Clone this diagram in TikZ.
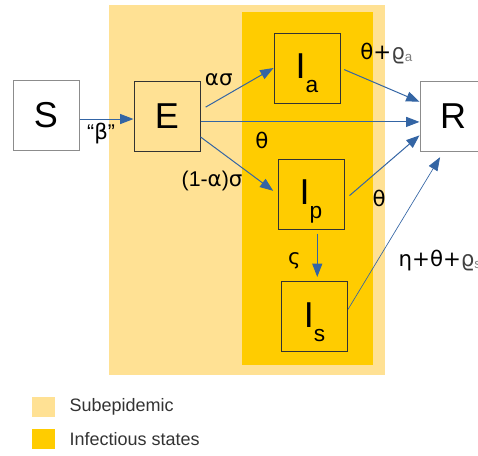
\documentclass[tikz,border=0pt]{standalone}
\usepackage{fontspec}
\setmainfont{Liberation Sans}
\newfontfamily\greekfont{DejaVu Sans}
\usetikzlibrary{arrows.meta, positioning}

\definecolor{subepi}{HTML}{FFE194}
\definecolor{infect}{HTML}{FFCC00}
\definecolor{flowblue}{HTML}{3465A4}
\definecolor{legendgray}{HTML}{333333}

% indices
\newcommand{\stsub}[1]{{\fontsize{17}{17}\selectfont\raisebox{-10.5pt}{#1}}}
\newcommand{\ratesub}[1]{{\color{gray}\fontsize{10}{10}\selectfont\raisebox{-1.5pt}{#1}}}
\newcommand{\gk}[1]{{\greekfont #1}}
\newcommand{\vrho}{{\color{black!75}\greekfont ϱ}}

\begin{document}
\begin{tikzpicture}[
    x=0.75pt, y=-0.75pt,
    >={Triangle[length=10pt, width=7.5pt]},
    % Style des compartiments
    state/.style={
        rectangle,
        draw=black!80,
        minimum width=49.5pt,
        minimum height=52.5pt,
        inner sep=0pt,
        line width=0.75pt,
        font=\fontsize{27}{27}\selectfont
    },
    outerstate/.style={
        state,
        draw=black!45,
        fill=white
    },
    infstate/.style={
        state,
        text height=20pt,
        text depth=4pt
    },
    flow/.style={->, draw=flowblue, line width=0.75pt},
    rate/.style={font=\fontsize{16}{16}\selectfont, inner sep=1pt},
    swatch/.style={rectangle, minimum width=17.25pt, minimum height=15pt, inner sep=0pt},
    legendtext/.style={font=\fontsize{13.5}{13.5}\selectfont, text=legendgray, inner sep=1pt}
]

    \useasboundingbox (0,0) rectangle (478,455);

    % --- ZONES ---
    \fill[subepi] (109,5) rectangle (385,375);
    \fill[infect] (242,12) rectangle (373,365);

    % --- NŒUDS ---
    \node[outerstate] (S) at (46,115.5) {S};
    \node[state] (E) at (167,116) {E};
    \node[outerstate] (R) at (453,116) {R};

    \node[infstate] (Ia) at (307,68) {I\stsub{a}};
    \node[infstate] (Ip) at (311,194) {I\stsub{p}};
    \node[infstate] (Is) at (314.5,316.5) {I\stsub{s}};

    % --- LIAISONS / FLÈCHES ---
    \draw[flow] (S.-6) -- node[rate, pos=0.4, below=1.5pt] {“\gk{β}”} (S.-6 -| E.west);

    \draw[flow, shorten <=4.5pt] (E.10) -- node[rate, pos=0.25, above=9pt] {\gk{ασ}} (Ia.west);
    \draw[flow] (E.-10) -- node[rate, pos=0.28, below=6pt] {\gk{θ}} (E.-10 -| R.west);
    \draw[flow, shorten >=4pt] (E.-32) -- node[rate, pos=0.15, below=18pt] {(1-\gk{α})\gk{σ}} (Ip.west);

    \draw[flow, shorten <=3pt] (Ia.east) -- node[rate, pos=0.58, above=16.5pt] {\gk{θ+}\vrho\ratesub{a}} (R.157);
    \draw[flow, shorten <=5pt] (Ip.-10) -- node[rate, pos=0.35, below right=8pt and 0pt] {\gk{θ}} (R.210);
    \draw[flow, shorten <=3pt, shorten >=3pt] (Ip.-80) -- node[rate, pos=0.6, left=11pt] {\gk{ς}} (Ip.-80 |- Is.north);
    \draw[flow, line width=0.5pt, shorten >=5pt] (Is.12) -- node[rate, pos=0.31, right=14.5pt] {\gk{η+θ+}\vrho\ratesub{s}} (R.-105);

    % --- LÉGENDE ---
    \node[swatch, fill=subepi] (legsub) at (43.5,407) {};
    \node[legendtext, right=9.5pt of legsub] (legsubtxt) {Subepidemic};
    \node[swatch, fill=infect] (leginf) at (43.5,439) {};
    \node[legendtext, right=9.5pt of leginf] (leginftxt) {Infectious states};

\end{tikzpicture}
\end{document}
